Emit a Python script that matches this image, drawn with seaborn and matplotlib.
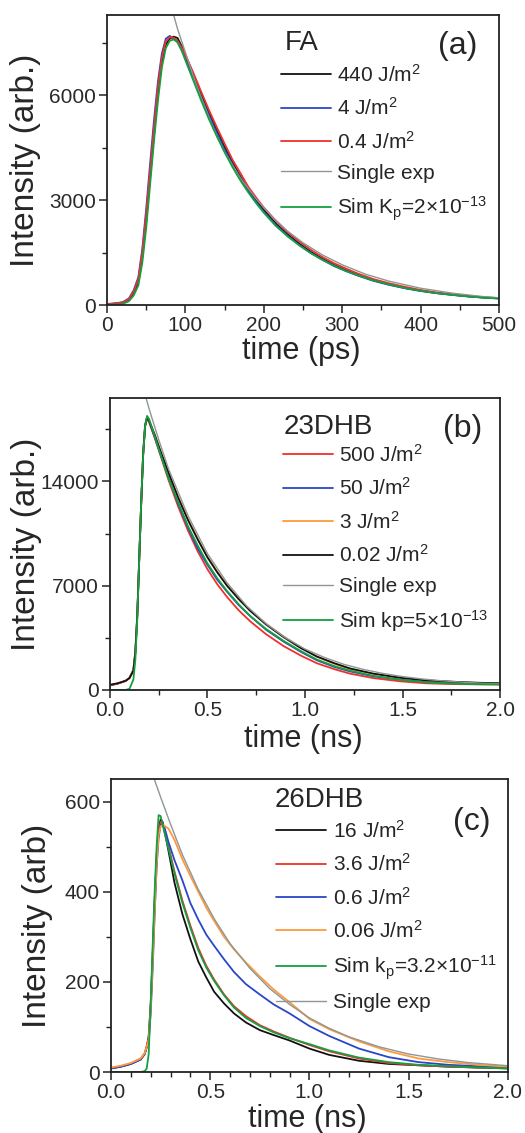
import matplotlib
matplotlib.use("Agg")
import matplotlib.pyplot as plt
import seaborn as sns
from matplotlib.ticker import MultipleLocator

# ---- data ----
# (a) FA, time in ps
fa_t = [0, 10, 20, 28, 34, 40, 45, 50, 55, 60, 65, 70, 75, 80, 85, 90, 95, 100, 110, 120,
        130, 140, 150, 160, 170, 180, 190, 200, 215, 230, 245, 260, 275, 290, 305, 320,
        340, 360, 380, 400, 420, 440, 460, 480, 500]
fa_440 = [20, 40, 70, 150, 330, 650, 1350, 2400, 3650, 4900, 6050, 6950, 7450, 7620, 7680,
          7640, 7420, 7150, 6600, 6050, 5500, 5000, 4520, 4080, 3680, 3320, 3000, 2720, 2340,
          2030, 1760, 1520, 1320, 1140, 990, 860, 710, 590, 490, 410, 345, 295, 250, 215, 190]
fa_4 = [30, 45, 80, 190, 420, 800, 1600, 2750, 4050, 5300, 6400, 7200, 7620, 7700, 7620,
        7520, 7300, 7050, 6520, 5950, 5430, 4930, 4450, 4020, 3620, 3260, 2950, 2670, 2300,
        1990, 1720, 1490, 1290, 1110, 970, 840, 690, 575, 480, 400, 340, 290, 248, 212, 188]
fa_04 = [25, 42, 75, 170, 380, 740, 1500, 2600, 3850, 5100, 6250, 7080, 7550, 7660, 7650,
         7560, 7380, 7160, 6650, 6110, 5580, 5090, 4620, 4160, 3780, 3390, 3080, 2790, 2420,
         2090, 1820, 1580, 1370, 1190, 1040, 900, 740, 620, 520, 430, 360, 310, 262, 225, 198]
fa_sim = [5, 10, 30, 110, 270, 560, 1200, 2200, 3450, 4700, 5850, 6800, 7350, 7560, 7600,
          7520, 7300, 7000, 6430, 5860, 5320, 4830, 4370, 3950, 3570, 3230, 2920, 2640, 2270,
          1970, 1710, 1480, 1290, 1120, 970, 850, 700, 585, 485, 405, 340, 290, 245, 210, 185]
fa_single_t = [80, 90, 100, 110, 120, 135, 150, 170, 190, 210, 230, 250, 275, 300, 330, 360,
               400, 440, 480, 500]
fa_single = [8700, 7900, 7230, 6550, 5940, 5100, 4380, 3640, 3040, 2540, 2120, 1780, 1430,
             1150, 880, 680, 480, 340, 240, 205]

# (b) 23DHB, time in ns
b_t = [0.0, 0.04, 0.08, 0.10, 0.12, 0.13, 0.14, 0.15, 0.16, 0.17, 0.18, 0.19, 0.20, 0.23,
       0.26, 0.30, 0.35, 0.40, 0.45, 0.50, 0.55, 0.60, 0.66, 0.72, 0.80, 0.89, 0.98, 1.06,
       1.15, 1.23, 1.35, 1.49, 1.62, 1.75, 1.88, 2.0]
b_500 = [300, 420, 600, 800, 1300, 2500, 5000, 8800, 12500, 15800, 17700, 18200, 18000, 16900,
         15700, 14100, 12300, 10700, 9300, 8100, 7100, 6250, 5350, 4600, 3750, 2950, 2300,
         1800, 1400, 1100, 800, 580, 450, 400, 380, 370]
b_50 = [320, 440, 610, 820, 1350, 2600, 5100, 8900, 12600, 15900, 17800, 18300, 18050, 16950,
        15800, 14300, 12500, 10900, 9500, 8400, 7400, 6600, 5700, 4950, 4050, 3250, 2550,
        2000, 1550, 1250, 920, 700, 560, 480, 440, 420]
b_3 = [340, 450, 620, 810, 1320, 2550, 5050, 8850, 12550, 15850, 17800, 18300, 18100, 17150,
       15950, 14550, 12950, 11500, 10150, 8950, 7950, 7050, 6150, 5350, 4450, 3600, 2850,
       2250, 1750, 1400, 1080, 810, 650, 550, 480, 440]
b_002 = [350, 450, 620, 800, 1300, 2500, 5000, 8800, 12500, 15800, 17700, 18300, 18100, 17100,
         16000, 14600, 12900, 11400, 10100, 8900, 7900, 7000, 6100, 5300, 4400, 3550, 2800,
         2250, 1800, 1450, 1100, 820, 650, 560, 490, 450]
b_sim = [0, 0, 0, 80, 700, 2000, 4800, 8800, 12600, 15700, 17700, 18400, 18200, 17000, 15800,
         14200, 12600, 11000, 9700, 8500, 7500, 6650, 5750, 4950, 4100, 3300, 2600, 2050,
         1600, 1300, 950, 680, 520, 430, 390, 370]
b_single_t = [0.17, 0.2, 0.25, 0.3, 0.4, 0.5, 0.6, 0.7, 0.8, 0.9, 1.0, 1.1, 1.2, 1.3, 1.4, 1.5,
              1.6, 1.7, 1.8, 1.9, 2.0]
b_single = [20300, 18900, 16800, 14850, 11700, 9150, 7200, 5650, 4450, 3500, 2750, 2180, 1720,
            1380, 1110, 900, 740, 620, 530, 460, 420]

# (c) 26DHB, time in ns
c_t = [0.0, 0.05, 0.10, 0.15, 0.17, 0.18, 0.19, 0.20, 0.21, 0.22, 0.23, 0.24, 0.25, 0.26,
       0.27, 0.29, 0.32, 0.36, 0.40, 0.44, 0.48, 0.52, 0.57, 0.62, 0.68, 0.75, 0.82, 0.90,
       1.0, 1.1, 1.25, 1.4, 1.55, 1.7, 1.85, 2.0]
c_16 = [8, 12, 18, 28, 40, 55, 80, 150, 260, 380, 480, 540, 560, 555, 535, 490, 420, 350, 295,
        245, 210, 178, 152, 130, 110, 93, 82, 70, 52, 38, 25, 18, 15, 12, 10, 8]
c_36 = [9, 13, 19, 30, 42, 58, 75, 145, 250, 370, 470, 535, 555, 552, 535, 500, 445, 380, 325,
        275, 236, 205, 172, 146, 124, 104, 90, 76, 60, 46, 30, 20, 15, 12, 10, 9]
c_06 = [8, 12, 18, 28, 40, 55, 70, 130, 230, 350, 455, 520, 548, 550, 542, 510, 470, 425, 375,
        338, 305, 280, 250, 222, 195, 172, 150, 130, 102, 80, 52, 33, 22, 16, 13, 11]
c_006 = [10, 14, 20, 30, 42, 56, 72, 135, 240, 355, 460, 525, 545, 548, 546, 540, 515, 472,
         435, 400, 365, 335, 300, 272, 243, 212, 183, 155, 118, 95, 68, 46, 30, 22, 16, 12]
c_sim = [0, 0, 0, 0, 2, 8, 40, 150, 280, 400, 500, 570, 568, 550, 530, 495, 440, 375, 320,
         270, 232, 202, 170, 143, 120, 102, 88, 75, 62, 48, 32, 22, 16, 13, 10, 8]
c_single_t = [0.21, 0.25, 0.3, 0.36, 0.44, 0.52, 0.6, 0.7, 0.8, 0.9, 1.0, 1.1, 1.2, 1.35, 1.5,
              1.65, 1.8, 2.0]
c_single = [660, 610, 550, 482, 405, 340, 285, 230, 185, 150, 120, 97, 78, 56, 40, 29, 21, 14]

BLACK, BLUE, RED = "#111111", "#2a46c8", "#f0302a"
ORANGE, GREEN, GRAY = "#ff9a3c", "#14a040", "#8e9696"

sns.set_style("ticks")
plt.rcParams["font.family"] = ["Liberation Sans", "DejaVu Sans"]
plt.rcParams["mathtext.fontset"] = "custom"
plt.rcParams["mathtext.rm"] = "Liberation Sans"
plt.rcParams["mathtext.it"] = "Liberation Sans:italic"
plt.rcParams["mathtext.bf"] = "Liberation Sans:bold"

fig = plt.figure(figsize=(5.25, 11.33), dpi=100)
ax_a = fig.add_axes([0.2038, 0.7308, 0.7467, 0.2560])
ax_b = fig.add_axes([0.2095, 0.3910, 0.7429, 0.2577])
ax_c = fig.add_axes([0.2114, 0.0538, 0.7560, 0.2586])

LW = 1.3


def curve(ax, x, y, color, label, lw=LW):
    sns.lineplot(x=x, y=y, color=color, lw=lw, ax=ax, label=label, sort=False)


# (a)
curve(ax_a, fa_t, fa_440, BLACK, r"440 J/m$^2$")
curve(ax_a, fa_t, fa_4, BLUE, r"4 J/m$^2$")
curve(ax_a, fa_t, fa_04, RED, r"0.4 J/m$^2$")
curve(ax_a, fa_single_t, fa_single, GRAY, "Single exp", lw=1.0)
curve(ax_a, fa_t, fa_sim, GREEN, r"Sim K$_\mathrm{p}$=2×10$^{-13}$")

# (b)
curve(ax_b, b_t, b_500, RED, r"500 J/m$^2$")
curve(ax_b, b_t, b_50, BLUE, r"50 J/m$^2$")
curve(ax_b, b_t, b_3, ORANGE, r"3 J/m$^2$")
curve(ax_b, b_t, b_002, BLACK, r"0.02 J/m$^2$")
curve(ax_b, b_single_t, b_single, GRAY, "Single exp", lw=1.0)
curve(ax_b, b_t, b_sim, GREEN, r"Sim kp=5×10$^{-13}$")

# (c)
curve(ax_c, c_t, c_16, BLACK, r"16 J/m$^2$")
curve(ax_c, c_t, c_36, RED, r"3.6 J/m$^2$")
curve(ax_c, c_t, c_06, BLUE, r"0.6 J/m$^2$")
curve(ax_c, c_t, c_006, ORANGE, r"0.06 J/m$^2$")
curve(ax_c, c_t, c_sim, GREEN, r"Sim k$_\mathrm{p}$=3.2×10$^{-11}$")
curve(ax_c, c_single_t, c_single, GRAY, "Single exp", lw=1.0)

setup = [
    (ax_a, (0, 500), (0, 8300), 100, 50, 3000, 1500, "time (ps)", "Intensity (arb.)",
     "FA", "(a)", (0.454, 0.903), (0.844, 0.893), (0.444, 0.832), -0.209, -0.160),
    (ax_b, (0, 2), (0, 19600), 0.5, 0.25, 7000, 3500, "time (ns)", "Intensity (arb.)",
     "23DHB", "(b)", (0.444, 0.901), (0.854, 0.894), (0.444, 0.843), -0.213, -0.168),
    (ax_c, (0, 2), (0, 650), 0.5, 0.1, 200, 100, "time (ns)", "Intensity (arb)",
     "26DHB", "(c)", (0.413, 0.928), (0.861, 0.853), (0.417, 0.861), -0.186, -0.160),
]

for (ax, xl, yl, xmaj, xmin, ymaj, ymin, xlab, ylab, name, tag,
     name_pos, tag_pos, leg_pos, ylab_x, xlab_y) in setup:
    ax.set_xlim(*xl)
    ax.set_ylim(*yl)
    ax.xaxis.set_major_locator(MultipleLocator(xmaj))
    ax.xaxis.set_minor_locator(MultipleLocator(xmin))
    ax.yaxis.set_major_locator(MultipleLocator(ymaj))
    ax.yaxis.set_minor_locator(MultipleLocator(ymin))
    ax.tick_params(which="major", direction="out", length=6, width=1.1, pad=2,
                   labelsize=15, labelcolor="#2a2a2a", color="#222222")
    ax.tick_params(which="minor", direction="out", length=3.5, width=1.0, color="#222222")
    for sp in ax.spines.values():
        sp.set_visible(True)
        sp.set_linewidth(1.3)
        sp.set_color("#222222")
    ax.set_xlabel(xlab, fontsize=22, va="center")
    ax.set_ylabel(ylab, fontsize=24, va="center")
    ax.xaxis.set_label_coords(0.495, xlab_y)
    ax.yaxis.set_label_coords(ylab_x, 0.5)
    ax.text(*name_pos, name, transform=ax.transAxes, fontsize=20, va="center", ha="left")
    ax.text(*tag_pos, tag, transform=ax.transAxes, fontsize=23, va="center", ha="left")
    ax.legend(loc="upper left", bbox_to_anchor=leg_pos, frameon=False, fontsize=15,
              borderpad=0, borderaxespad=0, handlelength=2.4, handletextpad=0.3,
              labelspacing=0.55)

fig.savefig("out.png", dpi=100)
